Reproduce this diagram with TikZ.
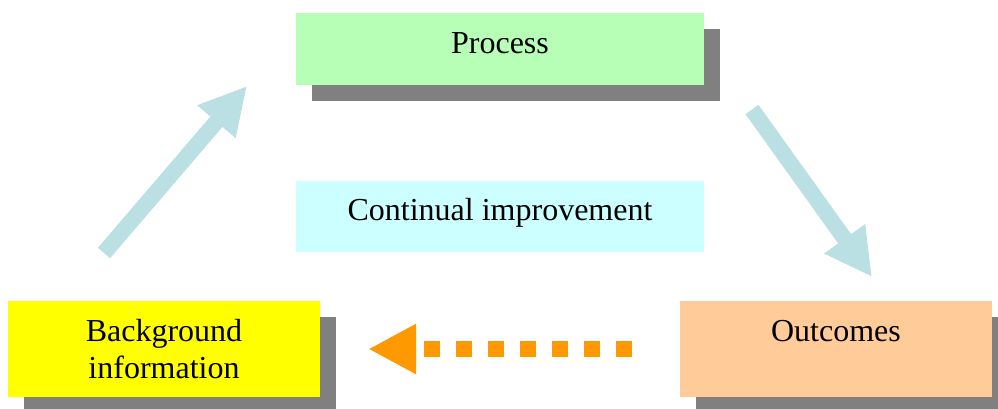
\documentclass[tikz,border=0pt]{standalone}
\usepackage{fontspec}
\setmainfont{Liberation Serif}
\usetikzlibrary{arrows.meta,shadows,positioning}
\definecolor{procgreen}{HTML}{B7FFB7}
\definecolor{improvecyan}{HTML}{CCFFFF}
\definecolor{backyellow}{RGB}{255,255,0}
\definecolor{outcomeorange}{HTML}{FFCC99}
\definecolor{shadowgray}{HTML}{808080}
\definecolor{arrowblue}{HTML}{BBE0E3}
\definecolor{arroworange}{HTML}{FF9900}

\begin{document}
\begin{tikzpicture}[x=1pt,y=-1pt,
    box/.style={rectangle, inner sep=0pt, align=center,
        minimum width=408pt, minimum height=72pt,
        font=\fontsize{32}{37}\selectfont},
    oneline/.style={text height=22pt, text depth=14pt},
    shadowed/.style={drop shadow={shadow xshift=16pt, shadow yshift=-16pt,
        fill=shadowgray, opacity=1}},
    bigarrow/.style={line width=16pt, draw=arrowblue,
        -{Triangle[width=47pt,length=47pt]}}]
    \useasboundingbox (0,0) rectangle (998,408);

    \node[box, oneline, shadowed, fill=procgreen]   (process) at (500,49)    {Process};
    \node[box, oneline, fill=improvecyan, minimum height=71pt] (improve) at (500,216.5) {Continual improvement};
    \node[box, shadowed, fill=backyellow, minimum width=312pt, minimum height=96pt]
        (background) at (164,349) {Background\\information};
    \node[box, shadowed, fill=outcomeorange, minimum width=312pt, minimum height=96pt]
        (outcomes) at (836,349) {Outcomes\\\mbox{}};

    % cycle arrows
    \coordinate (upTail)   at (104,253);
    \coordinate (upTip)    at (247,86);
    \coordinate (downTail) at (752,109.5);
    \coordinate (downTip)  at (872,277);
    \coordinate[left=48pt of outcomes.west]     (backTail);
    \coordinate[right=48pt of background.east]  (backTip);

    \draw[bigarrow] (upTail) -- (upTip);
    \draw[bigarrow] (downTail) -- (downTip);
    \draw[line width=16pt, draw=arroworange, dash pattern=on 16pt off 16pt,
        -{Triangle[width=47pt,length=48pt]}] (backTail) -- (backTip);
\end{tikzpicture}
\end{document}
